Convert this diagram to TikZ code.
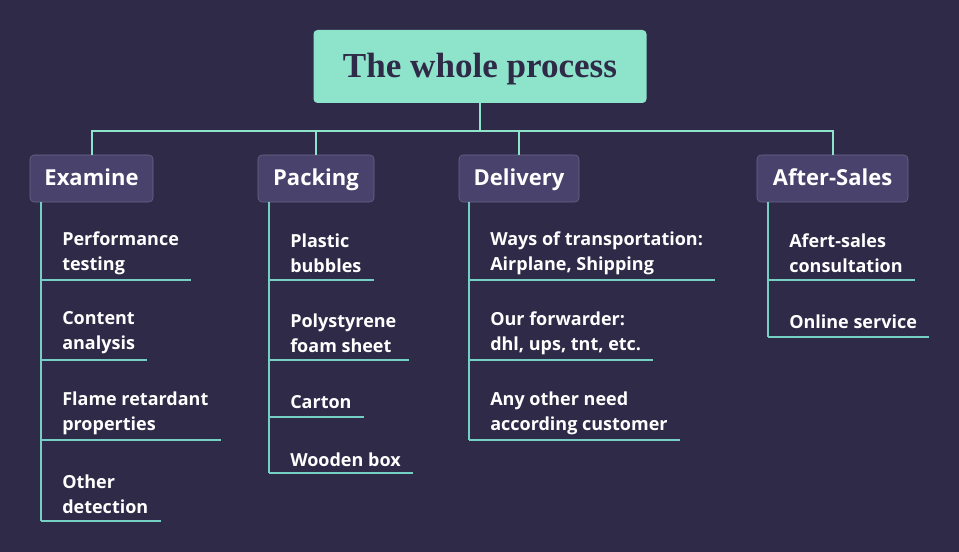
\documentclass[tikz,border=0pt]{standalone}
\usepackage{fontspec}
\setmainfont{Open Sans}
\newfontfamily\titlefont{Liberation Serif}
\definecolor{bgcol}{HTML}{2E2A47}
\definecolor{mint}{HTML}{8EE3CB}
\definecolor{catcol}{HTML}{48426C}
\definecolor{branchcol}{HTML}{74CFC4}
\tikzset{
	titlebox/.style={fill=mint, rounded corners=3pt, minimum width=249.75pt, minimum height=54.75pt, text height=19.5pt, text depth=3.7pt, text=bgcol, font=\titlefont\bfseries\fontsize{26.3}{28}\selectfont},
	cat/.style={fill=catcol, draw=catcol!80!white, rounded corners=3pt, minimum height=35.25pt, text height=12.5pt, text depth=2.5pt, text=white, font=\bfseries\fontsize{16.5}{18}\selectfont},
	item/.style={anchor=west, inner sep=0pt, align=left, text=white, font=\bfseries\fontsize{13.5}{18.75}\selectfont},
	bus/.style={draw=mint, line width=1.5pt},
	branch/.style={draw=branchcol, line width=0.9pt}
}
\begin{document}
\begin{tikzpicture}[x=0.75pt, y=-0.75pt]
	% background
	\fill[bgcol] (0,0) rectangle (959,552);
	\useasboundingbox (0,0) rectangle (959,552);

	% title
	\node[titlebox] (title) at (480,66.5) {The whole process};

	% categories
	\node[cat, minimum width=92.25pt] (examine) at (91.5,178.5) {Examine};
	\node[cat, minimum width=87pt] (packing) at (316,178.5) {Packing};
	\node[cat, minimum width=90pt] (delivery) at (519,178.5) {Delivery};
	\node[cat, minimum width=113.25pt] (aftersales) at (832.5,178.5) {After-Sales};

	% bus
	\coordinate (hub) at (480,131);
	\draw[bus] (title.south) -- (hub);
	\draw[bus] (examine.north) |- (hub) -| (aftersales.north);
	\draw[bus] (packing.north) -- (packing.north |- hub);
	\draw[bus] (delivery.north) -- (delivery.north |- hub);

	% examine
	\node[item] (e1) at (62,253) {Performance\\testing};
	\node[item] (e2) at (62,333) {Content\\analysis};
	\node[item] (e3) at (62,413) {Flame retardant\\properties};
	\node[item] (e4) at (62,494) {Other\\detection};
	\draw[branch] (41,202) -- (41,521);
	\draw[branch] (41,280) -- (41,280 -| e1.east) -- ++(12,0);
	\draw[branch] (41,360) -- (41,360 -| e2.east) -- ++(12,0);
	\draw[branch] (41,440) -- (41,440 -| e3.east) -- ++(12,0);
	\draw[branch] (41,521) -- (41,521 -| e4.east) -- ++(12,0);

	% packing
	\node[item] (p1) at (290,253) {Plastic\\bubbles};
	\node[item] (p2) at (290,333) {Polystyrene\\foam sheet};
	\node[item] (p3) at (290,402) {Carton};
	\node[item] (p4) at (290,460) {Wooden box};
	\draw[branch] (269,202) -- (269,473);
	\draw[branch] (269,280) -- (269,280 -| p1.east) -- ++(12,0);
	\draw[branch] (269,360) -- (269,360 -| p2.east) -- ++(12,0);
	\draw[branch] (269,417) -- (269,417 -| p3.east) -- ++(12,0);
	\draw[branch] (269,473) -- (269,473 -| p4.east) -- ++(12,0);

	% delivery
	\node[item] (d1) at (490,253) {Ways of transportation:\\Airplane, Shipping};
	\node[item] (d2) at (490,333) {Our forwarder:\\dhl, ups, tnt, etc.};
	\node[item] (d3) at (490,413) {Any other need\\according customer};
	\draw[branch] (469,202) -- (469,440);
	\draw[branch] (469,280) -- (469,280 -| d1.east) -- ++(12,0);
	\draw[branch] (469,360) -- (469,360 -| d2.east) -- ++(12,0);
	\draw[branch] (469,440) -- (469,440 -| d3.east) -- ++(12,0);

	% after-sales
	\node[item] (a1) at (789,253) {Afert-sales\\consultation};
	\node[item] (a2) at (789,322) {Online service};
	\draw[branch] (768,202) -- (768,337);
	\draw[branch] (768,280) -- (768,280 -| a1.east) -- ++(12,0);
	\draw[branch] (768,337) -- (768,337 -| a2.east) -- ++(12,0);
\end{tikzpicture}
\end{document}
